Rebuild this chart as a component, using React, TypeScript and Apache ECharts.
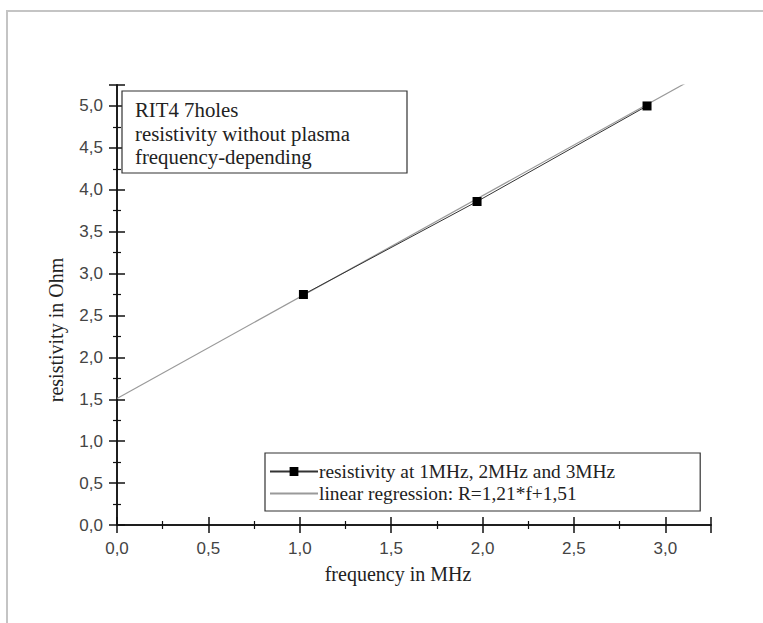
import React, { useEffect, useRef } from "react";
import * as echarts from "echarts";

// measured data points
const frequency = [1.02, 1.97, 2.9];
const resistivity = [2.75, 3.86, 5.0];
// regression line endpoints (R = 1,21*f + 1,51)
const regressionFrequency = [0, 3.2];
const regressionResistivity = [1.51, 5.38];

const seriesNames = [
  "resistivity at 1MHz, 2MHz and 3MHz",
  "linear regression: R=1,21*f+1,51",
];
const noteLines = [
  "RIT4 7holes",
  "resistivity without plasma",
  "frequency-depending",
];
const xTitle = "frequency in MHz";
const yTitle = "resistivity in Ohm";

const fmt = (v: number) => v.toFixed(1).replace(".", ",");

const SERIF = "'Liberation Serif', 'Times New Roman', serif";
const SANS = "'Liberation Sans', Arial, sans-serif";

export default function App() {
  const ref = useRef<HTMLDivElement>(null);
  useEffect(() => {
    if (!ref.current) return;
    const chart = echarts.init(ref.current, null, { renderer: "svg" });
    const axisLine = { show: true, lineStyle: { color: "#111", width: 1.5 } };
    const axisTick = { show: true, inside: false, length: 8, lineStyle: { color: "#111", width: 1.5 } };
    const minorTick = { show: true, splitNumber: 2, length: 4, lineStyle: { color: "#111", width: 1.2 } };
    const xCommon = {
      type: "value",
      min: 0,
      max: 3.25,
      interval: 0.5,
      splitLine: { show: false },
      minorSplitLine: { show: false },
      axisLine,
      axisTick,
      minorTick,
    };
    const yCommon = {
      type: "value",
      min: 0,
      max: 5.25,
      interval: 0.5,
      splitLine: { show: false },
      minorSplitLine: { show: false },
      axisLine,
      axisTick,
      minorTick,
    };
    chart.setOption({
      animation: false,
      backgroundColor: "#fff",
      grid: { left: 117, top: 85, right: 52, bottom: 98, containLabel: false },
      xAxis: [
        {
          ...xCommon,
          position: "bottom",
          axisLabel: {
            show: true,
            margin: 15,
            formatter: fmt,
            showMaxLabel: false,
            fontFamily: SANS,
            fontSize: 17,
            color: "#444",
          },
        },
        { ...xCommon, position: "top", axisLabel: { show: false } },
      ],
      yAxis: [
        {
          ...yCommon,
          position: "left",
          axisLabel: {
            show: true,
            margin: 14,
            formatter: fmt,
            showMaxLabel: false,
            fontFamily: SANS,
            fontSize: 17,
            color: "#444",
          },
        },
        { ...yCommon, position: "right", axisLabel: { show: false } },
      ],
      legend: {
        orient: "vertical",
        left: 265,
        top: 453,
        padding: [9, 85, 8, 4],
        itemGap: 3,
        itemWidth: 48,
        itemHeight: 11,
        borderColor: "#333",
        borderWidth: 1.2,
        backgroundColor: "#fff",
        textStyle: { fontFamily: SERIF, fontSize: 19.4, color: "#222", padding: [0, 0, 0, -4] },
        data: [
          { name: seriesNames[0] },
          { name: seriesNames[1], itemStyle: { color: "rgba(0,0,0,0)", borderWidth: 0 } },
        ],
      },
      series: [
        {
          name: seriesNames[1],
          type: "line",
          xAxisIndex: 0,
          yAxisIndex: 0,
          data: regressionFrequency.map((f, i) => [f, regressionResistivity[i]]),
          symbol: "none",
          clip: true,
          lineStyle: { color: "#9a9a9a", width: 1.2 },
          itemStyle: { color: "#9a9a9a" },
          z: 2,
        },
        {
          name: seriesNames[0],
          type: "line",
          xAxisIndex: 0,
          yAxisIndex: 0,
          data: frequency.map((f, i) => [f, resistivity[i]]),
          symbol: "rect",
          symbolSize: 9,
          lineStyle: { color: "#333", width: 1 },
          itemStyle: { color: "#000" },
          z: 3,
        },
      ],
      graphic: [
        {
          type: "rect",
          shape: { x: 7, y: 11, width: 800, height: 700 },
          style: { fill: "none", stroke: "#c4c4c4", lineWidth: 2 },
          z: -10,
          silent: true,
        },
        {
          type: "rect",
          shape: { x: 122, y: 91, width: 285, height: 82 },
          style: { fill: "#fff", stroke: "#333", lineWidth: 1.2 },
          z: 10,
        },
        {
          type: "text",
          x: 135,
          y: 98,
          z: 11,
          style: {
            text: noteLines.join("\n"),
            font: `20.8px ${SERIF}`,
            lineHeight: 23.5,
            fill: "#222",
          },
        },
        {
          type: "text",
          x: 398,
          y: 574,
          z: 11,
          style: {
            text: xTitle,
            font: `20px ${SERIF}`,
            fill: "#222",
            align: "center",
            verticalAlign: "middle",
          },
        },
        {
          type: "text",
          x: 56,
          y: 330,
          rotation: Math.PI / 2,
          z: 11,
          style: {
            text: yTitle,
            font: `20px ${SERIF}`,
            fill: "#222",
            align: "center",
            verticalAlign: "middle",
          },
        },
      ],
    });
    return () => chart.dispose();
  }, []);
  return (
    <div
      ref={ref}
      style={{ position: "fixed", left: 0, top: 0, width: 763, height: 623 }}
    />
  );
}
